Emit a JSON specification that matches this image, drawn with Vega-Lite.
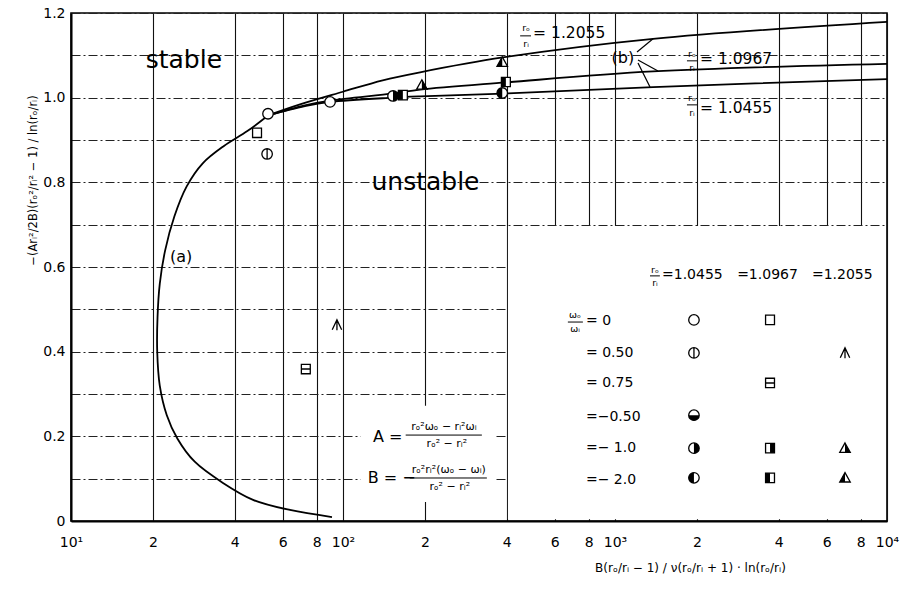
{
  "$schema": "https://vega.github.io/schema/vega-lite/v6.json",
  "width": 816,
  "height": 508,
  "autosize": {"type": "none"},
  "padding": {"left": 71, "top": 13, "right": 20, "bottom": 70},
  "background": "white",
  "config": {
    "font": "DejaVu Sans",
    "view": {"stroke": "black", "strokeWidth": 1.6}
  },
  "resolve": {"scale": {"shape": "independent"}},
  "datasets": {
    "curves": [
      {"curve": "a", "ord": 1, "x": 91.1, "y": 0.0094},
      {"curve": "a", "ord": 2, "x": 63.8, "y": 0.026},
      {"curve": "a", "ord": 3, "x": 46.7, "y": 0.05},
      {"curve": "a", "ord": 4, "x": 36.2, "y": 0.09},
      {"curve": "a", "ord": 5, "x": 28.5, "y": 0.14},
      {"curve": "a", "ord": 6, "x": 24.6, "y": 0.195},
      {"curve": "a", "ord": 7, "x": 22.5, "y": 0.25},
      {"curve": "a", "ord": 8, "x": 21.2, "y": 0.32},
      {"curve": "a", "ord": 9, "x": 20.75, "y": 0.4},
      {"curve": "a", "ord": 10, "x": 20.8, "y": 0.48},
      {"curve": "a", "ord": 11, "x": 21.2, "y": 0.56},
      {"curve": "a", "ord": 12, "x": 22.2, "y": 0.64},
      {"curve": "a", "ord": 13, "x": 24, "y": 0.72},
      {"curve": "a", "ord": 14, "x": 26.6, "y": 0.79},
      {"curve": "a", "ord": 15, "x": 30.5, "y": 0.845},
      {"curve": "a", "ord": 16, "x": 36.5, "y": 0.886},
      {"curve": "a", "ord": 17, "x": 44.5, "y": 0.921},
      {"curve": "a", "ord": 18, "x": 53, "y": 0.958},
      {"curve": "b1.2055", "ord": 1, "x": 53, "y": 0.958},
      {"curve": "b1.2055", "ord": 2, "x": 69.5, "y": 0.984},
      {"curve": "b1.2055", "ord": 3, "x": 100, "y": 1.014},
      {"curve": "b1.2055", "ord": 4, "x": 140, "y": 1.041},
      {"curve": "b1.2055", "ord": 5, "x": 192, "y": 1.06},
      {"curve": "b1.2055", "ord": 6, "x": 387, "y": 1.095},
      {"curve": "b1.2055", "ord": 7, "x": 1380, "y": 1.139},
      {"curve": "b1.2055", "ord": 8, "x": 10000, "y": 1.179},
      {"curve": "b1.0967", "ord": 1, "x": 53, "y": 0.958},
      {"curve": "b1.0967", "ord": 2, "x": 72.4, "y": 0.982},
      {"curve": "b1.0967", "ord": 3, "x": 89.6, "y": 0.993},
      {"curve": "b1.0967", "ord": 4, "x": 152.7, "y": 1.01},
      {"curve": "b1.0967", "ord": 5, "x": 192, "y": 1.019},
      {"curve": "b1.0967", "ord": 6, "x": 397, "y": 1.036},
      {"curve": "b1.0967", "ord": 7, "x": 1380, "y": 1.062},
      {"curve": "b1.0967", "ord": 8, "x": 10000, "y": 1.08},
      {"curve": "b1.0455", "ord": 1, "x": 53, "y": 0.958},
      {"curve": "b1.0455", "ord": 2, "x": 72.4, "y": 0.98},
      {"curve": "b1.0455", "ord": 3, "x": 89.6, "y": 0.99},
      {"curve": "b1.0455", "ord": 4, "x": 152.7, "y": 1.0},
      {"curve": "b1.0455", "ord": 5, "x": 192, "y": 1.003},
      {"curve": "b1.0455", "ord": 6, "x": 397, "y": 1.01},
      {"curve": "b1.0455", "ord": 7, "x": 1380, "y": 1.025},
      {"curve": "b1.0455", "ord": 8, "x": 10000, "y": 1.044}
    ],
    "markers": [
      {"omega": 0, "ratio": "1.0455", "x": 53, "y": 0.962},
      {"omega": 0, "ratio": "1.0967", "x": 48.3, "y": 0.917},
      {"omega": 0.5, "ratio": "1.0455", "x": 52.6, "y": 0.867},
      {"omega": 0, "ratio": "1.0455", "x": 89.6, "y": 0.99},
      {"omega": -1, "ratio": "1.0455", "x": 152.7, "y": 1.004},
      {"omega": -2, "ratio": "1.0967", "x": 166, "y": 1.006},
      {"omega": -1, "ratio": "1.2055", "x": 195, "y": 1.03},
      {"omega": -2, "ratio": "1.2055", "x": 385, "y": 1.084},
      {"omega": -2, "ratio": "1.0967", "x": 397, "y": 1.037},
      {"omega": -2, "ratio": "1.0455", "x": 385, "y": 1.011},
      {"omega": 0.75, "ratio": "1.0967", "x": 73, "y": 0.359},
      {"omega": 0.5, "ratio": "1.2055", "x": 95, "y": 0.463},
      {"omega": 0, "ratio": "1.0455", "x": 1951, "y": 0.475},
      {"omega": 0, "ratio": "1.0967", "x": 3715, "y": 0.475},
      {"omega": 0.5, "ratio": "1.0455", "x": 1951, "y": 0.397},
      {"omega": 0.5, "ratio": "1.2055", "x": 7008, "y": 0.397},
      {"omega": 0.75, "ratio": "1.0967", "x": 3715, "y": 0.326},
      {"omega": -0.5, "ratio": "1.0455", "x": 1951, "y": 0.25},
      {"omega": -1, "ratio": "1.0455", "x": 1951, "y": 0.172},
      {"omega": -1, "ratio": "1.0967", "x": 3715, "y": 0.172},
      {"omega": -1, "ratio": "1.2055", "x": 7008, "y": 0.172},
      {"omega": -2, "ratio": "1.0455", "x": 1951, "y": 0.102},
      {"omega": -2, "ratio": "1.0967", "x": 3715, "y": 0.102},
      {"omega": -2, "ratio": "1.2055", "x": 7008, "y": 0.102}
    ],
    "boxes": [
      {"x": 404, "x2": 9900, "y": 0.004, "y2": 0.697},
      {"x": 116, "x2": 360, "y": 0.045, "y2": 0.272}
    ],
    "arrows": [
      {"x": 1205, "y": 1.108, "x2": 1380, "y2": 1.139},
      {"x": 1215, "y": 1.089, "x2": 1439, "y2": 1.063},
      {"x": 1215, "y": 1.082, "x2": 1345, "y2": 1.025}
    ],
    "fracbars": [
      {"x": 448, "x2": 491, "y": 1.146},
      {"x": 1839, "x2": 2002, "y": 1.087},
      {"x": 1839, "x2": 2002, "y": 0.983},
      {"x": 1345, "x2": 1462, "y": 0.579},
      {"x": 671, "x2": 762, "y": 0.47},
      {"x": 170, "x2": 324, "y": 0.203},
      {"x": 176, "x2": 338, "y": 0.1016}
    ],
    "bigText": [
      {"label": "stable", "x": 26, "y": 1.089},
      {"label": "unstable", "x": 201, "y": 0.801}
    ],
    "midText": [
      {"label": "(a)", "x": 25.4, "y": 0.624},
      {"label": "(b)", "x": 1069, "y": 1.094},
      {"label": "A =", "x": 146, "y": 0.198},
      {"label": "B = −", "x": 151, "y": 0.102}
    ],
    "curveLabels": [
      {"label": "= 1.2055", "x": 500, "y": 1.153},
      {"label": "= 1.0967", "x": 2053, "y": 1.091},
      {"label": "= 1.0455", "x": 2053, "y": 0.976}
    ],
    "legendText": [
      {"label": "=1.0455", "x": 1489, "y": 0.581},
      {"label": "=1.0967", "x": 2812, "y": 0.581},
      {"label": "=1.2055", "x": 5297, "y": 0.581},
      {"label": "=  0", "x": 782, "y": 0.472},
      {"label": "=  0.50", "x": 782, "y": 0.397},
      {"label": "=  0.75", "x": 782, "y": 0.326},
      {"label": "=−0.50", "x": 782, "y": 0.246},
      {"label": "=− 1.0", "x": 782, "y": 0.172},
      {"label": "=− 2.0", "x": 782, "y": 0.097}
    ],
    "fracText": [
      {"label": "rₒ", "x": 471, "y": 1.164},
      {"label": "rᵢ", "x": 471, "y": 1.127},
      {"label": "rₒ", "x": 1919, "y": 1.104},
      {"label": "rᵢ", "x": 1919, "y": 1.071},
      {"label": "rₒ", "x": 1919, "y": 1.0},
      {"label": "rᵢ", "x": 1919, "y": 0.964},
      {"label": "rₒ", "x": 1403, "y": 0.594},
      {"label": "rᵢ", "x": 1403, "y": 0.563},
      {"label": "ωₒ", "x": 713, "y": 0.487},
      {"label": "ωᵢ", "x": 713, "y": 0.453}
    ],
    "formulaText": [
      {"label": "rₒ²ωₒ − rᵢ²ωᵢ", "x": 235, "y": 0.222},
      {"label": "rₒ² − rᵢ²", "x": 241, "y": 0.183},
      {"label": "rₒ²rᵢ²(ωₒ − ωᵢ)", "x": 245, "y": 0.121},
      {"label": "rₒ² − rᵢ²", "x": 247, "y": 0.081}
    ]
  },
  "encoding": {
    "x": {
      "field": "x",
      "type": "quantitative",
      "scale": {"type": "log", "domain": [10, 10000], "nice": false},
      "axis": {
        "values": [10, 20, 40, 60, 80, 100, 200, 400, 600, 800, 1000, 2000, 4000, 6000, 8000, 10000],
        "labelExpr": "datum.value == 10 ? '10¹' : datum.value == 100 ? '10²' : datum.value == 1000 ? '10³' : datum.value == 10000 ? '10⁴' : substring(toString(datum.value), 0, 1)",
        "grid": true,
        "gridColor": "#111111",
        "gridWidth": 1.1,
        "gridOpacity": 1,
        "ticks": false,
        "domainColor": "black",
        "domainWidth": 2,
        "labelFont": "DejaVu Sans",
        "labelFontSize": 14,
        "labelColor": "black",
        "labelPadding": 14,
        "labelFlush": false,
        "labelOverlap": false,
        "labelBound": false,
        "title": "B(rₒ/rᵢ − 1) / ν(rₒ/rᵢ + 1) · ln(rₒ/rᵢ)",
        "titleFont": "DejaVu Sans",
        "titleFontSize": 12,
        "titleFontWeight": "normal",
        "titleColor": "black",
        "titleX": 619,
        "titleY": 46,
        "titleBaseline": "middle",
        "titleAlign": "center"
      }
    },
    "y": {
      "field": "y",
      "type": "quantitative",
      "scale": {"domain": [0, 1.2], "nice": false, "zero": false},
      "axis": {
        "values": [0, 0.1, 0.2, 0.3, 0.4, 0.5, 0.6, 0.7, 0.8, 0.9, 1.0, 1.1, 1.2],
        "labelExpr": "round(datum.value * 10) % 2 == 0 ? (datum.value == 0 ? '0' : format(datum.value, '.1f')) : ''",
        "grid": true,
        "gridColor": "#222222",
        "gridWidth": 1,
        "gridOpacity": 1,
        "gridDash": [9, 3, 2, 3],
        "ticks": false,
        "domainColor": "black",
        "domainWidth": 2,
        "labelFont": "DejaVu Sans",
        "labelFontSize": 14,
        "labelColor": "black",
        "labelPadding": 6,
        "labelFlush": false,
        "labelOverlap": false,
        "labelBound": false,
        "title": "−(Arᵢ²/2B)(rₒ²/rᵢ² − 1) / ln(rₒ/rᵢ)",
        "titleFont": "DejaVu Sans",
        "titleFontSize": 11.5,
        "titleFontWeight": "normal",
        "titleColor": "black",
        "titleX": -38,
        "titleY": 167,
        "titleAngle": -90,
        "titleBaseline": "middle",
        "titleAlign": "center"
      }
    }
  },
  "layer": [
    {
      "data": {"name": "boxes"},
      "mark": {"type": "rect", "fill": "white", "stroke": null},
      "encoding": {"x2": {"field": "x2"}, "y2": {"field": "y2"}}
    },
    {
      "data": {"name": "curves"},
      "mark": {"type": "line", "color": "black", "strokeWidth": 1.8, "interpolate": "catmull-rom"},
      "encoding": {
        "detail": {"field": "curve", "type": "nominal"},
        "order": {"field": "ord", "type": "quantitative"}
      }
    },
    {
      "data": {"name": "arrows"},
      "mark": {"type": "rule", "color": "black", "strokeWidth": 1.2},
      "encoding": {"x2": {"field": "x2"}, "y2": {"field": "y2"}}
    },
    {
      "data": {"name": "fracbars"},
      "mark": {"type": "rule", "color": "black", "strokeWidth": 1},
      "encoding": {"x2": {"field": "x2"}}
    },
    {
      "data": {"name": "markers"},
      "transform": [{"calculate": "datum.omega + '|' + datum.ratio", "as": "key"}],
      "mark": {"type": "point", "filled": true, "color": "white", "opacity": 1, "strokeWidth": 0},
      "encoding": {
        "shape": {
          "field": "key",
          "type": "nominal",
          "legend": null,
          "scale": {
            "domain": ["0|1.0455", "0.5|1.0455", "-0.5|1.0455", "-1|1.0455", "-2|1.0455", "0|1.0967", "0.75|1.0967", "-1|1.0967", "-2|1.0967", "0.5|1.2055", "-1|1.2055", "-2|1.2055"],
            "range": [
              "M-1,0A1,1,0,1,1,1,0A1,1,0,1,1,-1,0Z",
              "M-1,0A1,1,0,1,1,1,0A1,1,0,1,1,-1,0Z",
              "M-1,0A1,1,0,1,1,1,0A1,1,0,1,1,-1,0Z",
              "M-1,0A1,1,0,1,1,1,0A1,1,0,1,1,-1,0Z",
              "M-1,0A1,1,0,1,1,1,0A1,1,0,1,1,-1,0Z",
              "M-0.85,-0.9L0.85,-0.9L0.85,0.9L-0.85,0.9Z",
              "M-0.85,-0.9L0.85,-0.9L0.85,0.9L-0.85,0.9Z",
              "M-0.85,-0.9L0.85,-0.9L0.85,0.9L-0.85,0.9Z",
              "M-0.85,-0.9L0.85,-0.9L0.85,0.9L-0.85,0.9Z",
              "M0,-1L0.9,0.9L-0.9,0.9Z",
              "M0,-1L1,0.8L-1,0.8Z",
              "M0,-1L1,0.8L-1,0.8Z"
            ]
          }
        },
        "size": {"value": 110}
      }
    },
    {
      "data": {"name": "markers"},
      "transform": [{"calculate": "datum.omega + '|' + datum.ratio", "as": "key2"}],
      "mark": {"type": "point", "filled": true, "color": "black", "opacity": 1, "strokeWidth": 0},
      "encoding": {
        "shape": {
          "field": "key2",
          "type": "nominal",
          "legend": null,
          "scale": {
            "domain": ["0|1.0455", "0.5|1.0455", "-0.5|1.0455", "-1|1.0455", "-2|1.0455", "0|1.0967", "0.75|1.0967", "-1|1.0967", "-2|1.0967", "0.5|1.2055", "-1|1.2055", "-2|1.2055"],
            "range": [
              "M0,0L0,0",
              "M0,0L0,0",
              "M-1,0A1,1,0,0,0,1,0Z",
              "M0,-1A1,1,0,0,1,0,1Z",
              "M0,-1A1,1,0,0,0,0,1Z",
              "M0,0L0,0",
              "M0,0L0,0",
              "M0,-0.9L0.85,-0.9L0.85,0.9L0,0.9Z",
              "M-0.85,-0.9L0,-0.9L0,0.9L-0.85,0.9Z",
              "M0,0L0,0",
              "M0,-1L1,0.8L0,0.8Z",
              "M0,-1L-1,0.8L0,0.8Z"
            ]
          }
        },
        "size": {"value": 110}
      }
    },
    {
      "data": {"name": "markers"},
      "transform": [{"calculate": "datum.omega + '|' + datum.ratio", "as": "key3"}],
      "mark": {"type": "point", "filled": false, "color": "black", "opacity": 1, "strokeWidth": 1.3},
      "encoding": {
        "shape": {
          "field": "key3",
          "type": "nominal",
          "legend": null,
          "scale": {
            "domain": ["0|1.0455", "0.5|1.0455", "-0.5|1.0455", "-1|1.0455", "-2|1.0455", "0|1.0967", "0.75|1.0967", "-1|1.0967", "-2|1.0967", "0.5|1.2055", "-1|1.2055", "-2|1.2055"],
            "range": [
              "M-1,0A1,1,0,1,1,1,0A1,1,0,1,1,-1,0Z",
              "M-1,0A1,1,0,1,1,1,0A1,1,0,1,1,-1,0ZM0,-1L0,1",
              "M-1,0A1,1,0,1,1,1,0A1,1,0,1,1,-1,0Z",
              "M-1,0A1,1,0,1,1,1,0A1,1,0,1,1,-1,0Z",
              "M-1,0A1,1,0,1,1,1,0A1,1,0,1,1,-1,0Z",
              "M-0.85,-0.9L0.85,-0.9L0.85,0.9L-0.85,0.9Z",
              "M-0.85,-0.9L0.85,-0.9L0.85,0.9L-0.85,0.9ZM-0.85,0L0.85,0",
              "M-0.85,-0.9L0.85,-0.9L0.85,0.9L-0.85,0.9Z",
              "M-0.85,-0.9L0.85,-0.9L0.85,0.9L-0.85,0.9Z",
              "M-0.9,0.9L0,-1L0.9,0.9M0,-1L0,1",
              "M0,-1L1,0.8L-1,0.8Z",
              "M0,-1L1,0.8L-1,0.8Z"
            ]
          }
        },
        "size": {"value": 110}
      }
    },
    {
      "data": {"name": "bigText"},
      "mark": {"type": "text", "font": "DejaVu Sans", "fontSize": 25, "align": "center", "baseline": "middle", "color": "black"},
      "encoding": {"text": {"field": "label"}}
    },
    {
      "data": {"name": "midText"},
      "mark": {"type": "text", "font": "DejaVu Sans", "fontSize": 16, "align": "center", "baseline": "middle", "color": "black"},
      "encoding": {"text": {"field": "label"}}
    },
    {
      "data": {"name": "curveLabels"},
      "mark": {"type": "text", "font": "DejaVu Sans", "fontSize": 15.5, "align": "left", "baseline": "middle", "color": "black"},
      "encoding": {"text": {"field": "label"}}
    },
    {
      "data": {"name": "legendText"},
      "mark": {"type": "text", "font": "DejaVu Sans", "fontSize": 14, "align": "left", "baseline": "middle", "color": "black"},
      "encoding": {"text": {"field": "label"}}
    },
    {
      "data": {"name": "fracText"},
      "mark": {"type": "text", "font": "DejaVu Sans", "fontSize": 9.5, "align": "center", "baseline": "middle", "color": "black"},
      "encoding": {"text": {"field": "label"}}
    },
    {
      "data": {"name": "formulaText"},
      "mark": {"type": "text", "font": "DejaVu Sans", "fontSize": 11, "align": "center", "baseline": "middle", "color": "black"},
      "encoding": {"text": {"field": "label"}}
    }
  ]
}
